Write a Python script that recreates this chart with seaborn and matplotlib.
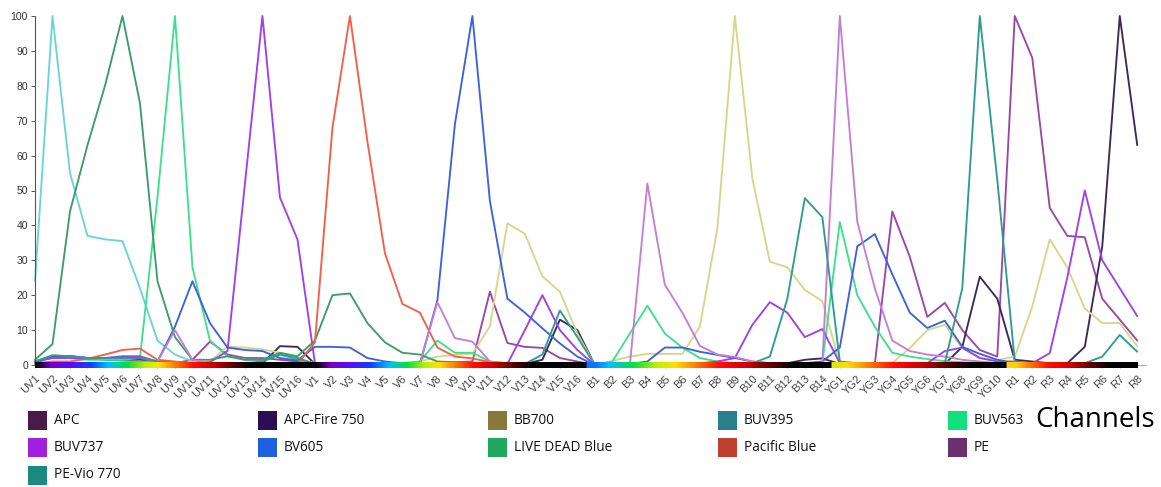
import numpy as np
import pandas as pd
import matplotlib
matplotlib.use("Agg")
import matplotlib.pyplot as plt
from matplotlib.colors import LinearSegmentedColormap
from matplotlib.patches import Rectangle
import seaborn as sns

# channels of the 5-laser cytometer
lasers = ["UV", "V", "B", "YG", "R"]
n_channels = [16, 16, 14, 10, 8]
channels = [f"{l}{i}" for l, n in zip(lasers, n_channels) for i in range(1, n + 1)]

# normalised emission (%), blocks: UV | V | B | YG | R
apc = ([0.3, 0.3, 0.3, 0.3, 0.3, 0.3, 0.3, 0.5, 0.5, 1.5, 6.7, 3, 2, 2, 1.5, 1]
       + [0.3, 0.3, 0.3, 0.3, 0.3, 0.3, 0.3, 0.5, 0.8, 1, 21, 6.3, 5.2, 4.9, 2, 1]
       + [0, 0, 0, 0, 0, 0, 0, 0, 0, 0.3, 0.3, 0.3, 0.5, 0.5]
       + [0.3, 0.3, 0.3, 44, 31, 13.8, 17.8, 10, 4.3, 2.4]
       + [100, 88, 45, 37, 36.6, 19, 13, 7])
apc_fire750 = ([0.5, 2.5, 2.5, 2, 1.5, 1.5, 1.5, 1, 0.5, 0.5, 0.5, 0.5, 0.5, 0.5, 5.4, 5.2]
               + [0.3, 0.3, 0.3, 0.3, 0.3, 0.3, 0.3, 0.3, 0.3, 0.3, 0.3, 0.3, 0.3, 1.5, 13, 10]
               + [0, 0, 0, 0, 0, 0, 0, 0, 0, 0.3, 0.3, 0.5, 1.5, 1.9]
               + [0.3, 0.3, 0.3, 0.3, 0.3, 0.3, 0.3, 5.2, 25.3, 19]
               + [1.5, 1, 0.5, 0.5, 5.2, 34, 100, 63])
bb700 = ([0.3, 0.3, 0.3, 0.3, 0.3, 0.3, 0.5, 0.5, 0.5, 0.5, 1, 5.3, 5, 4.5, 3.5, 2]
         + [0.5, 0.3, 0.3, 0.3, 0.3, 0.5, 1, 2.4, 2.9, 3.2, 11, 40.6, 37.6, 25.4, 21, 9]
         + [0, 1.2, 2.4, 3.2, 3.2, 3.2, 11, 39, 100, 53.5, 29.6, 28, 21.5, 18.3]
         + [0.5, 0.3, 0.3, 0.6, 4.8, 10, 11.5, 4.8, 2, 1.4]
         + [2.4, 16.7, 36, 28, 16.2, 12, 12, 5.3])
buv395 = ([24, 100, 55, 37, 36, 35.5, 22, 7, 3, 1, 0.5, 0.5, 0.5, 0.5, 0.5, 0.3]
          + [0.2] * 16 + [0.2] * 14 + [0.2] * 10 + [0.2] * 8)
buv563 = ([1, 2, 2, 1.5, 1.5, 1.5, 2, 48, 100, 28, 7, 2.5, 1.5, 1.5, 3, 1.5]
          + [0.5, 0.5, 0.5, 0.5, 0.5, 0.5, 1, 7, 3.5, 3.5, 1, 0.5, 0.3, 0.3, 0.3, 0.2]
          + [0, 1, 9, 17, 9, 5, 2, 1, 0.5, 0.5, 0.3, 0.3, 0.3, 0.5]
          + [41, 20, 11, 3.5, 2.4, 1.7, 1.1, 0.8, 0.5, 0.3]
          + [0.3] * 8)
buv737 = ([1, 2, 2, 1.8, 2, 2.5, 2.5, 1, 0.5, 0.5, 0.8, 4, 52, 100, 48, 36]
          + [0.5, 0.3, 0.3, 0.3, 0.3, 0.3, 0.3, 0.5, 0.5, 0.5, 0.5, 0.3, 10, 20, 10, 4.3]
          + [0, 0, 0, 0.3, 0.3, 0.3, 0.5, 1, 2, 11.5, 18, 15, 8, 10.3]
          + [0.5, 0.3, 0.3, 0.3, 0.3, 0.5, 4, 5, 2, 1]
          + [1, 0.5, 3.4, 25, 50, 30, 22, 14])
bv605 = ([1, 2.6, 2.6, 2, 2, 2.2, 1.9, 1, 11, 24, 12, 5, 4.3, 4, 2, 1.3]
         + [5.2, 5.2, 5, 2, 1, 0.5, 0.3, 18.6, 69, 100, 47, 19, 15, 10.5, 6.2, 2.4]
         + [0, 0.3, 0.3, 1, 5, 5, 3.8, 2.9, 2, 1, 0.5, 0.5, 0.5, 1]
         + [5, 34, 37.5, 26, 15, 10.6, 12.7, 5.2, 3.2, 1.5]
         + [0.5, 0.3, 0.3, 0.3, 0.3, 0.3, 0.3, 0.3])
live_dead_blue = ([1.5, 6, 44, 63, 80, 100, 75, 24, 8, 1.5, 1.5, 2.5, 1.5, 1.5, 3.5, 2.5]
                  + [7, 20, 20.5, 12, 6.5, 3.5, 3, 1, 0.8, 0.6, 0.5, 0.4, 0.3, 0.3, 0.3, 0.2]
                  + [0.2] * 14 + [0.2] * 10 + [0.2] * 8)
pacific_blue = ([0.5, 1, 1, 1.8, 3, 4.3, 4.7, 1.5, 1, 0.5, 0.3, 0.3, 0.3, 0.3, 0.3, 0.3]
                + [6.5, 68, 100, 64, 32, 17.5, 15, 5, 2.4, 1.9, 0.8, 0.3, 0.2, 0.2, 0.2, 0.2]
                + [0.2] * 14 + [0.2] * 10 + [0.2] * 8)
pe = ([0.3, 0.5, 0.5, 0.5, 0.5, 0.8, 1, 1, 10, 1.5, 0.5, 0.5, 0.5, 0.5, 0.5, 0.3]
      + [0.3, 0.3, 0.3, 0.3, 0.3, 0.3, 0.5, 18, 7.7, 6.7, 1, 0.5, 0.3, 0.3, 0.3, 0.2]
      + [0, 0, 0, 52, 23, 15, 5.5, 3, 2.3, 1, 0.5, 0.5, 0.5, 0.5]
      + [100, 41, 22, 7, 4, 3, 2.4, 1.5, 1, 0.5]
      + [0.3] * 8)
pe_vio770 = ([1, 2.8, 2.5, 2, 2, 2, 2, 1, 0.5, 0.5, 0.5, 0.5, 0.5, 1, 3, 2]
             + [0.3, 0.3, 0.3, 0.3, 0.3, 0.3, 0.3, 0.3, 0.3, 0.3, 0.3, 0.3, 0.3, 3, 15.6, 8]
             + [0, 0.3, 0.3, 0.3, 0.3, 0.3, 0.3, 0.3, 0.3, 0.5, 2.4, 19, 47.8, 42.4]
             + [1, 0.5, 0.3, 0.3, 0.3, 0.3, 0.5, 22, 100, 53]
             + [1, 0.5, 0.3, 0.3, 0.5, 2.4, 8.6, 3.8])

fluors = ["APC", "APC-Fire 750", "BB700", "BUV395", "BUV563", "BUV737",
          "BV605", "LIVE DEAD Blue", "Pacific Blue", "PE", "PE-Vio 770"]
signals = [apc, apc_fire750, bb700, buv395, buv563, buv737,
           bv605, live_dead_blue, pacific_blue, pe, pe_vio770]

# line colours (lighter) and legend swatch colours
line_colors = ["#9a48a8", "#3a2a5c", "#d6d68a", "#6ad4da", "#3ee08e", "#a040e8",
               "#3d62dc", "#3d9c6c", "#f26048", "#c47ed4", "#2e9c90"]
swatch_colors = ["#4a1a48", "#2a1052", "#857a3c", "#2a7f8a", "#12e07e", "#a020e0",
                 "#2060e0", "#22a85e", "#c04030", "#6a3070", "#1a8a80"]

rows = []
for name, vals in zip(fluors, signals):
    for i, v in enumerate(vals):
        rows.append({"fluor": name, "pos": i, "signal": v})
df = pd.DataFrame(rows)

sns.set_style("white")
plt.rcParams["font.family"] = ["Liberation Sans", "DejaVu Sans"]

fig = plt.figure(figsize=(11.61, 4.87), dpi=100)
ax = fig.add_axes([35 / 1161, 122 / 487, 1111 / 1161, 349 / 487])

sns.lineplot(data=df, x="pos", y="signal", hue="fluor", hue_order=fluors,
             palette=dict(zip(fluors, line_colors)), linewidth=1.35,
             legend=False, ax=ax)
for ln in ax.lines:
    ln.set_clip_on(False)

# spectrum bar along the x axis
spec = LinearSegmentedColormap.from_list("spec", [
    (0.00, "#000000"), (0.06, "#7a00c8"), (0.14, "#5010ff"), (0.21, "#1040ff"),
    (0.28, "#00c0ff"), (0.35, "#00e040"), (0.42, "#c0f000"), (0.47, "#ffe000"),
    (0.53, "#ff8000"), (0.60, "#ff1000"), (0.68, "#d00000"), (0.75, "#600000"),
    (0.82, "#000000"), (1.00, "#000000")])
bar_range = {"UV": (0, 1), "V": (0, 1), "B": (0.24, 0.9), "YG": (0.45, 0.9), "R": (0.48, 0.92)}

starts = np.cumsum([0] + n_channels[:-1])
xs = np.linspace(0, len(channels) - 1, 2400)
pos = np.zeros_like(xs)
for l, s, n in zip(lasers, starts, n_channels):
    lo = s - 0.5 if s > 0 else -1
    hi = s + n - 0.5
    m = (xs >= lo) & (xs < hi) if hi < len(channels) - 1 else (xs >= lo)
    a, b = bar_range[l]
    pos[m] = np.interp(xs[m], [s, s + n - 1], [a, b])
rgb = spec(pos)[None, :, :3]
ax.imshow(rgb, extent=(0, len(channels) - 1, -0.85, 0.85), aspect="auto",
          zorder=5, clip_on=False, interpolation="bilinear")

ax.set_xlim(0, len(channels) - 0.5)
ax.set_ylim(0, 100)
ax.set_xticks(range(len(channels)))
ax.set_xticklabels(channels, rotation=45, ha="right", rotation_mode="anchor",
                   fontsize=8, color="#444444")
ax.set_yticks(range(0, 101, 10))
ax.tick_params(axis="y", labelsize=7.5, labelcolor="#333333", length=3, width=0.7,
               color="#555555", left=True, pad=2)
ax.tick_params(axis="x", length=2, width=0.6, color="#999999", bottom=True, pad=4)
ax.set_xlabel("")
ax.set_ylabel("")
sns.despine(ax=ax)
ax.spines["left"].set_color("#555555")
ax.spines["left"].set_linewidth(0.8)
ax.spines["bottom"].set_color("#aaaaaa")
ax.spines["bottom"].set_linewidth(0.8)

# legend grid below the plot
W, H = 1161, 487
for k, (name, col) in enumerate(zip(fluors, swatch_colors)):
    r, c = divmod(k, 5)
    x0 = 28 + 230 * c
    yc = 420 + 27.5 * r
    fig.add_artist(Rectangle((x0 / W, 1 - (yc + 9.5) / H), 19 / W, 19 / H,
                             transform=fig.transFigure, color=col, lw=0))
    fig.text((x0 + 26) / W, 1 - yc / H, name, fontsize=9.8, family="Open Sans",
             va="center", ha="left", color="#111111")

fig.text(1035 / W, 1 - 420 / H, "Channels", fontsize=20, family="Open Sans",
         va="center", ha="left", color="#000000")

fig.savefig("out.png", dpi=100, facecolor="white")
